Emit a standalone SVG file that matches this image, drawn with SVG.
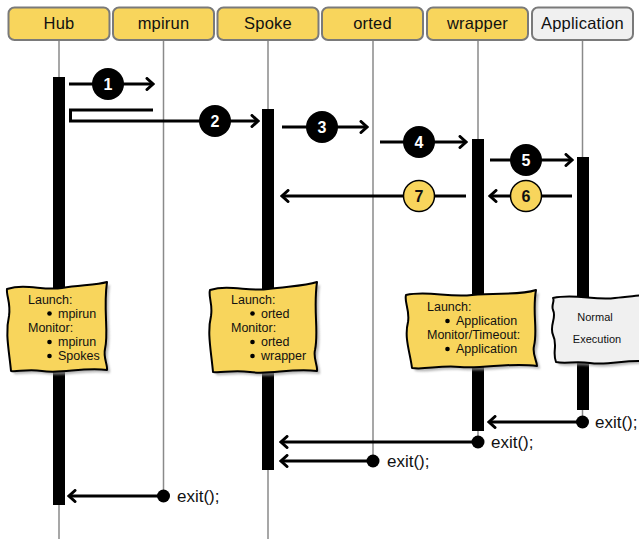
<svg xmlns="http://www.w3.org/2000/svg" width="639" height="539" viewBox="0 0 639 539">
  <style>
    .hdr{fill:#f8d55c;stroke:#7a7a7a;stroke-width:2}
    .hdr.gray{fill:#f0f0f0}
    .hdr-t{font-family:"Liberation Sans",Arial,sans-serif;font-size:16.5px;fill:#111;text-anchor:middle;letter-spacing:0.2px}
    .life{stroke:#8a8a8a;stroke-width:1.5;fill:none}
    .bar{fill:#000}
    .msg{stroke:#000;stroke-width:3;fill:none;marker-end:url(#arr)}
    .num{fill:#000}
    .num-y{fill:#f8d55c;stroke:#000;stroke-width:1.5}
    .num-t{font-family:"Liberation Sans",Arial,sans-serif;font-weight:bold;font-size:16px;text-anchor:middle;fill:#fff}
    .num-t.dark{fill:#111}
    .note{fill:#f8d55c;stroke:#000;stroke-width:2;stroke-linejoin:round}
    .note.gray{fill:#f0f0f0}
    .shadow{fill:#9a9a9a;opacity:0.7;filter:url(#soft)}
    .nt{font-family:"Liberation Sans",Arial,sans-serif;font-size:12.5px;fill:#111}
    .nt-c{font-family:"Liberation Sans",Arial,sans-serif;font-size:11px;fill:#111;text-anchor:middle}
    .exit-t{font-family:"Liberation Sans",Arial,sans-serif;font-size:17px;fill:#111}
  </style>
  <defs>
    <marker id="arr" viewBox="0 0 12 14" refX="10" refY="7" markerWidth="12" markerHeight="14" markerUnits="userSpaceOnUse" orient="auto">
      <path d="M4,1.5 L10,7 L4,12.5" fill="none" stroke="#000" stroke-width="3" stroke-linecap="round"/>
    </marker>
    <filter id="soft" x="-10%" y="-10%" width="120%" height="120%">
      <feGaussianBlur stdDeviation="1.2"/>
    </filter>
  </defs>

  <!-- lifelines -->
  <g id="lifelines">
    <path class="life" d="M59,40 V539"/>
    <path class="life" d="M163.5,40 V496"/>
    <path class="life" d="M268,40 V539"/>
    <path class="life" d="M373,40 V461"/>
    <path class="life" d="M478,40 V442"/>
    <path class="life" d="M582.5,40 V422"/>
  </g>

  <!-- participants -->
  <g id="hub">
    <rect class="hdr" x="8.5" y="7.5" width="101" height="32.5" rx="6"/>
    <text class="hdr-t" x="59" y="28.5">Hub</text>
    <rect class="bar" x="53" y="77" width="12" height="428"/>
  </g>
  <g id="mpirun">
    <rect class="hdr" x="113" y="7.5" width="101" height="32.5" rx="6"/>
    <text class="hdr-t" x="163.5" y="28.5">mpirun</text>
  </g>
  <g id="spoke">
    <rect class="hdr" x="217.5" y="7.5" width="101" height="32.5" rx="6"/>
    <text class="hdr-t" x="268" y="28.5">Spoke</text>
    <rect class="bar" x="262" y="109" width="12" height="361"/>
  </g>
  <g id="orted">
    <rect class="hdr" x="322" y="7.5" width="101" height="32.5" rx="6"/>
    <text class="hdr-t" x="372.5" y="28.5">orted</text>
  </g>
  <g id="wrapper">
    <rect class="hdr" x="427" y="7.5" width="101" height="32.5" rx="6"/>
    <text class="hdr-t" x="477.5" y="28.5">wrapper</text>
    <rect class="bar" x="472" y="139" width="12" height="292"/>
  </g>
  <g id="application">
    <rect class="hdr gray" x="532" y="7.5" width="101" height="32.5" rx="6"/>
    <text class="hdr-t" x="582.5" y="28.5">Application</text>
    <rect class="bar" x="577" y="157" width="12" height="253"/>
  </g>

  <!-- messages -->
  <g id="connectors">
    <path class="msg" d="M69,84 H153"/>
    <circle class="num" cx="108" cy="84" r="16"/>
    <text class="num-t" x="108" y="89.5">1</text>

    <path class="msg" d="M153,110 H70.5 V121 H258"/>
    <circle class="num" cx="215" cy="121" r="16"/>
    <text class="num-t" x="215" y="126.5">2</text>

    <path class="msg" d="M282,127 H367"/>
    <circle class="num" cx="322" cy="127" r="16"/>
    <text class="num-t" x="322" y="132.5">3</text>

    <path class="msg" d="M380,142 H466"/>
    <circle class="num" cx="419" cy="142" r="16"/>
    <text class="num-t" x="419" y="147.5">4</text>

    <path class="msg" d="M490,160 H572"/>
    <circle class="num" cx="526" cy="160" r="16"/>
    <text class="num-t" x="526" y="165.5">5</text>

    <path class="msg" d="M572,196 H490"/>
    <circle class="num-y" cx="526" cy="196" r="15.5"/>
    <text class="num-t dark" x="526" y="201.5">6</text>

    <path class="msg" d="M466,196 H282"/>
    <circle class="num-y" cx="419" cy="196" r="15.5"/>
    <text class="num-t dark" x="419" y="201.5">7</text>

    <!-- exits -->
    <path class="msg" d="M582,422 H489"/>
    <circle cx="582.5" cy="422" r="6.5"/>
    <text class="exit-t" x="595" y="427.5">exit();</text>

    <path class="msg" d="M478,442 H281"/>
    <circle cx="478" cy="442" r="6.5"/>
    <text class="exit-t" x="491" y="447.5">exit();</text>

    <path class="msg" d="M373,461 H281"/>
    <circle cx="373" cy="461" r="6.5"/>
    <text class="exit-t" x="387" y="466.5">exit();</text>

    <path class="msg" d="M163.5,496 H69"/>
    <circle cx="163.5" cy="496" r="6.5"/>
    <text class="exit-t" x="177" y="501.5">exit();</text>
  </g>

  <!-- notes -->
  <g id="note-hub">
    <path class="shadow" transform="translate(3,3)" d="M7,289 C27,283 42,291 62,288 C82,285 97,285 107,282 C103,310 109,332 105,349 C103,357 108,366 107,370 C82,367 62,374 42,371 C27,369 17,372 11,371 C9,350 5,333 9,316 C11,303 6,295 7,289 Z"/>
    <path class="note" d="M7,289 C27,283 42,291 62,288 C82,285 97,285 107,282 C103,310 109,332 105,349 C103,357 108,366 107,370 C82,367 62,374 42,371 C27,369 17,372 11,371 C9,350 5,333 9,316 C11,303 6,295 7,289 Z"/>
    <text class="nt" x="28" y="303.5">Launch:</text>
    <circle cx="49.5" cy="313.5" r="2.3"/>
    <text class="nt" x="58" y="317.5">mpirun</text>
    <text class="nt" x="28" y="331.5">Monitor:</text>
    <circle cx="49.5" cy="342" r="2.3"/>
    <text class="nt" x="58" y="346">mpirun</text>
    <circle cx="49.5" cy="356" r="2.3"/>
    <text class="nt" x="58" y="360">Spokes</text>
  </g>

  <g id="note-spoke">
    <path class="shadow" transform="translate(3,3)" d="M210,290 C230,284 248,292 268,289 C290,286 305,286 317,282 C313,310 319,332 315,350 C313,358 318,366 317,371 C290,368 270,375 250,372 C232,370 222,373 213,372 C211,350 207,333 211,316 C213,304 208,296 210,290 Z"/>
    <path class="note" d="M210,290 C230,284 248,292 268,289 C290,286 305,286 317,282 C313,310 319,332 315,350 C313,358 318,366 317,371 C290,368 270,375 250,372 C232,370 222,373 213,372 C211,350 207,333 211,316 C213,304 208,296 210,290 Z"/>
    <text class="nt" x="231" y="303.5">Launch:</text>
    <circle cx="252.5" cy="313.5" r="2.3"/>
    <text class="nt" x="261" y="317.5">orted</text>
    <text class="nt" x="231" y="331.5">Monitor:</text>
    <circle cx="252.5" cy="342" r="2.3"/>
    <text class="nt" x="261" y="346">orted</text>
    <circle cx="252.5" cy="356" r="2.3"/>
    <text class="nt" x="261" y="360">wrapper</text>
  </g>

  <g id="note-wrapper">
    <path class="shadow" transform="translate(3,3)" d="M406,295 C428,290 448,298 472,295 C498,292 518,296 536,290 C532,312 538,330 534,346 C532,354 537,361 537,366 C510,362 485,369 460,367 C440,365 425,370 412,368 C410,352 404,338 408,322 C410,310 404,302 406,295 Z"/>
    <path class="note" d="M406,295 C428,290 448,298 472,295 C498,292 518,296 536,290 C532,312 538,330 534,346 C532,354 537,361 537,366 C510,362 485,369 460,367 C440,365 425,370 412,368 C410,352 404,338 408,322 C410,310 404,302 406,295 Z"/>
    <text class="nt" x="427" y="311">Launch:</text>
    <circle cx="447.5" cy="321" r="2.3"/>
    <text class="nt" x="456" y="325">Application</text>
    <text class="nt" x="427" y="339">Monitor/Timeout:</text>
    <circle cx="447.5" cy="349" r="2.3"/>
    <text class="nt" x="456" y="353">Application</text>
  </g>

  <g id="note-application">
    <path class="shadow" transform="translate(3,3)" d="M553,298 C575,293 595,301 615,298 C630,296 640,296 650,294 L650,362 C630,358 610,366 590,363 C575,361 565,364 556,362 C552,352 558,345 553,335 C549,325 557,318 553,310 C551,305 555,301 553,298 Z"/>
    <path class="note gray" d="M553,298 C575,293 595,301 615,298 C630,296 640,296 650,294 L650,362 C630,358 610,366 590,363 C575,361 565,364 556,362 C552,352 558,345 553,335 C549,325 557,318 553,310 C551,305 555,301 553,298 Z"/>
    <text class="nt-c" x="595" y="321">Normal</text>
    <text class="nt-c" x="597" y="343">Execution</text>
  </g>
</svg>
